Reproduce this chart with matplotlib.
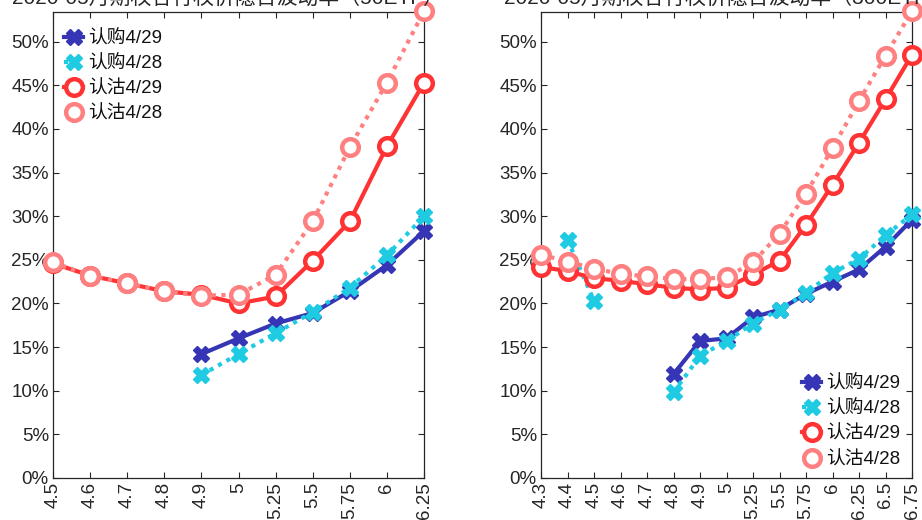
import numpy as np
import matplotlib
matplotlib.use("Agg")
import matplotlib.pyplot as plt
from matplotlib.ticker import FuncFormatter

plt.rcParams['font.family'] = ['Liberation Sans', 'Noto Sans CJK SC']

# left panel
strikes_l = ['4.5', '4.6', '4.7', '4.8', '4.9', '5', '5.25', '5.5', '5.75', '6', '6.25']
call_0429_l = [np.nan, np.nan, np.nan, np.nan, 14.2, 16.0, 17.7, 18.9, 21.4, 24.4, 28.3]
call_0428_l = [np.nan, np.nan, np.nan, np.nan, 11.8, 14.2, 16.6, 19.0, 21.8, 25.5, 30.0]
put_0429_l = [24.6, 23.2, 22.3, 21.4, 21.0, 20.0, 20.8, 24.9, 29.4, 38.0, 45.3]
put_0428_l = [24.7, 23.2, 22.3, 21.4, 20.9, 21.0, 23.3, 29.4, 37.9, 45.3, 53.5]

# right panel
strikes_r = ['4.3', '4.4', '4.5', '4.6', '4.7', '4.8', '4.9', '5', '5.25', '5.5', '5.75',
             '6', '6.25', '6.5', '6.75']
call_0429_r = [np.nan, np.nan, np.nan, np.nan, np.nan, 11.9, 15.7, 16.0, 18.4, 19.3, 21.1,
               22.5, 23.9, 26.5, 29.6]
call_0428_r = [np.nan, 27.3, 20.3, np.nan, np.nan, 9.8, 14.0, 15.7, 17.7, 19.3, 21.2,
               23.5, 25.1, 27.8, 30.2]
put_0429_r = [24.2, 23.7, 22.9, 22.6, 22.2, 21.8, 21.6, 21.8, 23.3, 24.9, 29.0,
              33.6, 38.4, 43.4, 48.5]
put_0428_r = [25.6, 24.8, 24.0, 23.4, 23.1, 22.8, 22.8, 23.0, 24.7, 28.0, 32.6,
              37.8, 43.2, 48.4, 53.5]

labels = ['认购4/29', '认购4/28', '认沽4/29', '认沽4/28']
titles = ['2020-05月期权各行权价隐含波动率（50ETF）', '2020-05月期权各行权价隐含波动率（300ETF）']

c_blue = '#3535b5'
c_cyan = '#1fcbe3'
c_red = '#ff3333'
c_pink = '#ff8080'

fig = plt.figure(figsize=(9.22, 5.2), dpi=100)
ax1 = fig.add_axes([53 / 922, 1 - 478 / 520, 371 / 922, 466 / 520])
ax2 = fig.add_axes([541 / 922, 1 - 478 / 520, 371 / 922, 466 / 520])


def draw(ax, strikes, c29, c28, p29, p28, loc, anchor):
    x = np.arange(len(strikes))
    ax.plot(x, np.array(c29) / 100, color=c_blue, lw=3, marker='X', ms=12,
            mec=c_blue, mfc=c_blue, label=labels[0], clip_on=False, zorder=3)
    ax.plot(x, np.array(c28) / 100, color=c_cyan, lw=3, ls=(0, (1, 1.3)), marker='X', ms=12,
            mec=c_cyan, mfc=c_cyan, label=labels[1], clip_on=False, zorder=3)
    ax.plot(x, np.array(p29) / 100, color=c_red, lw=3, marker='o', ms=12, mew=3.2,
            mec=c_red, mfc='white', label=labels[2], clip_on=False, zorder=4)
    ax.plot(x, np.array(p28) / 100, color=c_pink, lw=3, ls=(0, (1, 1.3)), marker='o', ms=12,
            mew=3.2, mec=c_pink, mfc='white', label=labels[3], clip_on=False, zorder=4)
    ax.set_xlim(0, len(strikes) - 1)
    ax.set_ylim(0, 0.534)
    ax.set_xticks(x)
    ax.set_xticklabels(strikes, rotation=90, fontsize=13.5, color='#262626')
    ax.set_yticks(np.arange(0, 0.51, 0.05))
    ax.yaxis.set_major_formatter(FuncFormatter(lambda v, p: f'{v * 100:.0f}%'))
    ax.tick_params(axis='both', direction='in', length=4, top=True, right=True,
                   labelsize=13.5, colors='#262626', width=0.8, pad=3)
    for s in ax.spines.values():
        s.set_color('#262626')
        s.set_linewidth(0.9)
    leg = ax.legend(loc=loc, bbox_to_anchor=anchor, frameon=False, fontsize=13.5,
                    handlelength=1.0, handletextpad=0.3, labelspacing=0.42,
                    borderaxespad=0.2)
    for t in leg.get_texts():
        t.set_color('#111111')


draw(ax1, strikes_l, call_0429_l, call_0428_l, put_0429_l, put_0428_l, 'upper left', (0.0, 0.985))
draw(ax2, strikes_r, call_0429_r, call_0428_r, put_0429_r, put_0428_r, 'lower right', (1.0, -0.003))

# titles sit mostly above the canvas, as in the source image
fig.text(228 / 922, 1 - 5 / 520, titles[0], ha='center', va='baseline', fontsize=15, color='#262626')
fig.text(726 / 922, 1 - 5 / 520, titles[1], ha='center', va='baseline', fontsize=15, color='#262626')

fig.savefig('out.png', dpi=100)
